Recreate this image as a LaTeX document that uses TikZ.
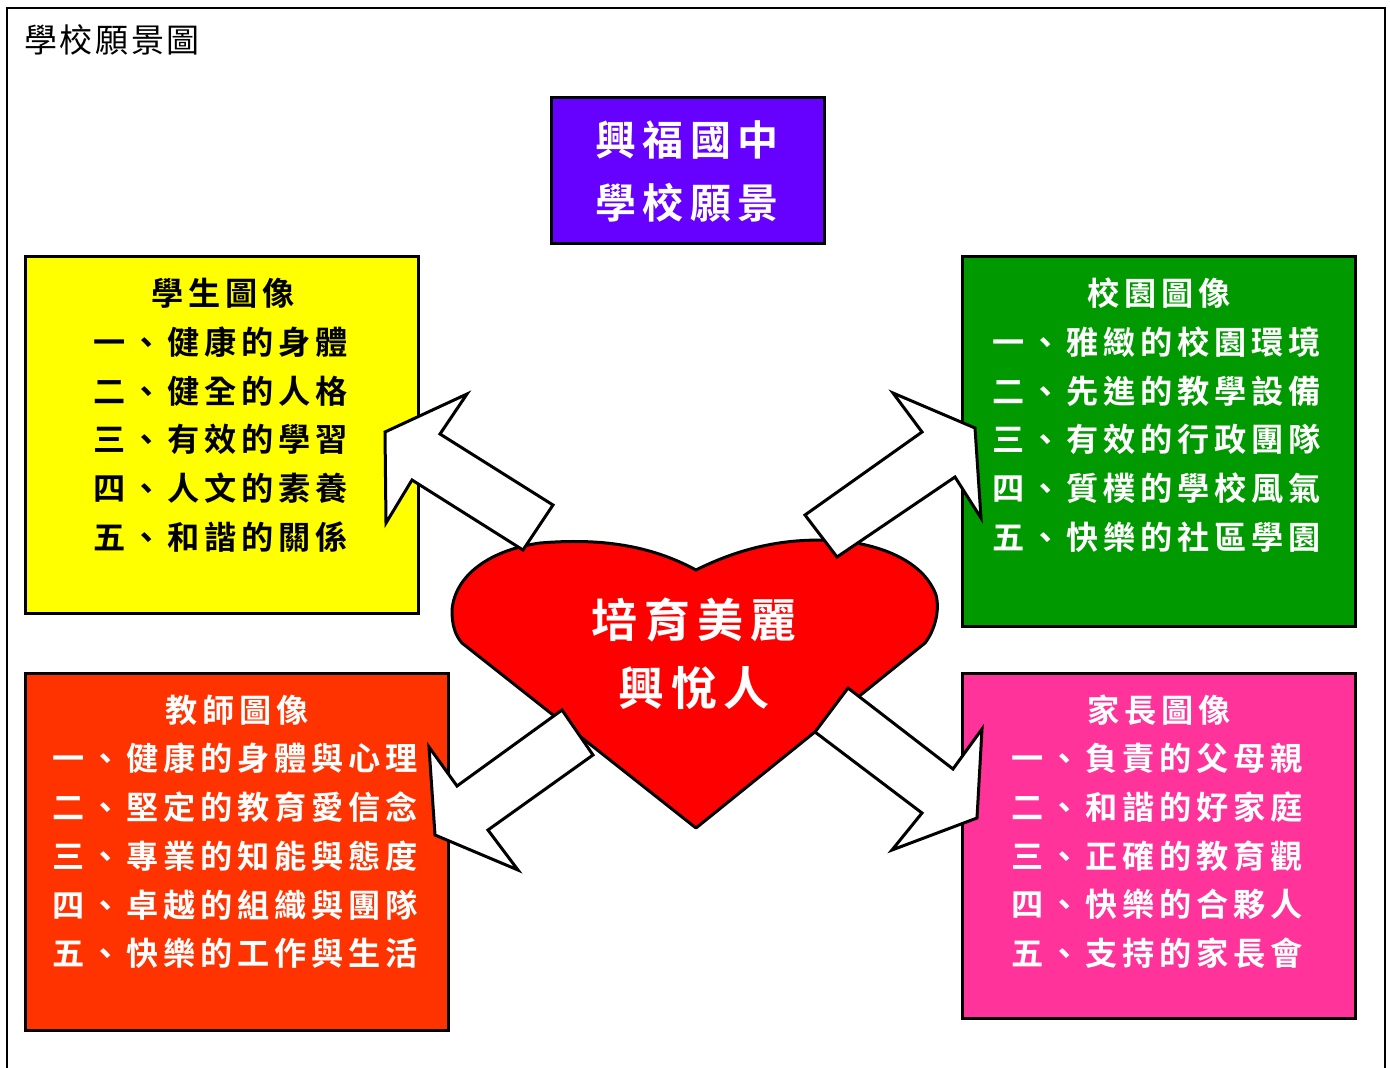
\documentclass[tikz,border=0pt]{standalone}
\usepackage{fontspec}
\newfontfamily\cjk[LetterSpace=8]{Noto Sans CJK TC}
\newfontfamily\cjkb[LetterSpace=15,BoldFont={* Bold}]{Noto Sans CJK TC}
\usetikzlibrary{positioning}

\definecolor{visionpurple}{HTML}{6600FF}
\definecolor{stuyellow}{HTML}{FFFF00}
\definecolor{campgreen}{HTML}{009900}
\definecolor{teachred}{HTML}{FF3300}
\definecolor{parentpink}{HTML}{FF3399}
\definecolor{heartred}{HTML}{FF0000}

\tikzset{
    panel/.style={draw, line width=3pt, rectangle, inner sep=0pt},
    blockarrow/.style={draw, fill=white, line width=3pt, line join=miter},
    head/.style={inner sep=0pt, font=\cjkb\bfseries\fontsize{32.2}{32.2}\selectfont},
    items/.style={inner sep=0pt, align=left, font=\cjkb\bfseries\fontsize{32.2}{48.75}\selectfont},
}

\begin{document}
\begin{tikzpicture}[x=1pt, y=-1pt]
        \useasboundingbox (0,0) rectangle (1390,1068);
        \draw[line width=2pt] (7,1068) -- (7,8) -- (1385,8) -- (1385,1068);

        \node[anchor=west, inner sep=0pt, font=\cjk\fontsize{33}{33}\selectfont] (title) at (24,40)
        {學校願景圖};

        % boxes
        \begin{scope}
            \node[panel, fill=visionpurple, minimum width=273, minimum height=146] (vision) at (687.5,170) {};
            \node[panel, fill=stuyellow, minimum width=393, minimum height=357] (student) at (221.5,434.5) {};
            \node[panel, fill=campgreen, minimum width=393, minimum height=370] (campus) at (1158.5,441) {};
            \node[panel, fill=teachred, minimum width=423, minimum height=357] (teacher) at (236.5,851.5) {};
            \node[panel, fill=parentpink, minimum width=393, minimum height=345] (parent) at (1158.5,845.5) {};
        \end{scope}

        % heart
        \draw[line width=3pt, fill=heartred, line join=round]
            (696,570) .. controls (650,545) and (600,538) .. (540,543)
            .. controls (490,550) and (455,575) .. (452,610)
            .. controls (452,625) and (455,635) .. (462,643)
            -- (696,828) -- (925,643)
            .. controls (935,630) and (940,610) .. (936,595)
            .. controls (925,565) and (890,548) .. (850,542)
            .. controls (790,535) and (740,548) .. (696,570) -- cycle;

        % arrows
        \begin{scope}
            \draw[blockarrow] (385,432) -- (467,394) -- (440,434) -- (553,505) -- (523,550) -- (412,480) -- (386,523) -- cycle;
            \draw[blockarrow] (893,393) -- (975,428) -- (981,518) -- (955,477) -- (837,557) -- (805,515) -- (922,432) -- cycle;
            \draw[blockarrow] (562,710) -- (593,755) -- (488,830) -- (518,870) -- (435,835) -- (429,747) -- (457,786) -- cycle;
            \draw[blockarrow] (848,688) -- (953,769) -- (982,729) -- (977,818) -- (892,850) -- (922,813) -- (815,732) -- cycle;
        \end{scope}

        % texts
        \node[white, inner sep=0pt, align=center, font=\cjkb\bfseries\fontsize{41}{63}\selectfont] (visiontext) at (687,171.5)
        {興福國中\\學校願景};
        \node[white, inner sep=0pt, align=center, font=\cjkb\bfseries\fontsize{46}{68}\selectfont] (core) at (694,654)
        {培育美麗\\興悅人};

        \node[head] (stuhead) at (223,293) {學生圖像};
        \node[items] (stulist) at (221,439.5)
        {一、健康的身體\\二、健全的人格\\三、有效的學習\\四、人文的素養\\五、和諧的關係};

        \node[head, white] (camphead) at (1159,293) {校園圖像};
        \node[items, white] (camplist) at (1157,439.5)
        {一、雅緻的校園環境\\二、先進的教學設備\\三、有效的行政團隊\\四、質樸的學校風氣\\五、快樂的社區學園};

        \node[head, white] (teachhead) at (237,710) {教師圖像};
        \node[items, white] (teachlist) at (235,856)
        {一、健康的身體與心理\\二、堅定的教育愛信念\\三、專業的知能與態度\\四、卓越的組織與團隊\\五、快樂的工作與生活};

        \node[head, white] (parenthead) at (1159,710) {家長圖像};
        \node[items, white] (parentlist) at (1157,856)
        {一、負責的父母親\\二、和諧的好家庭\\三、正確的教育觀\\四、快樂的合夥人\\五、支持的家長會};

\end{tikzpicture}
\end{document}
